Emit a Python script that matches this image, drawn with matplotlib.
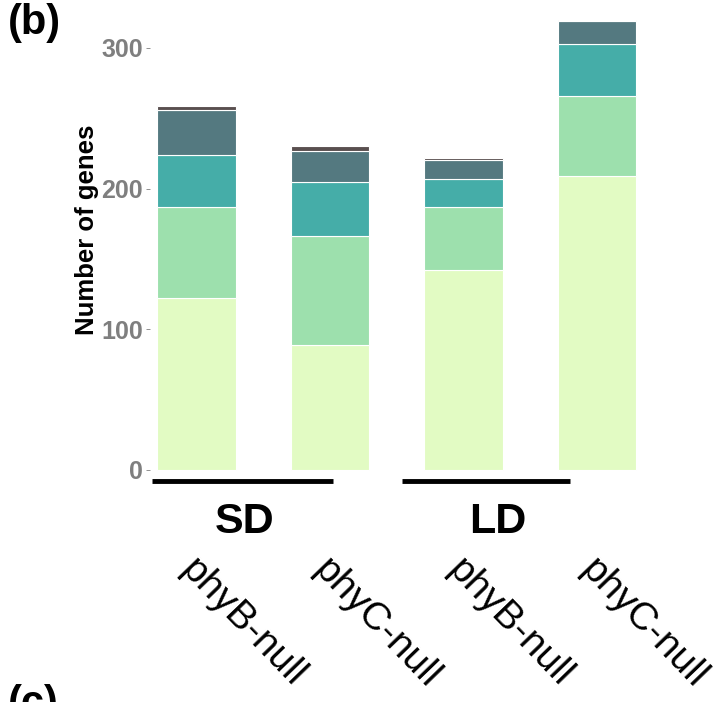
import matplotlib
matplotlib.use("Agg")
import matplotlib.pyplot as plt
import matplotlib.transforms as mtransforms
import numpy as np

plt.rcParams['font.family'] = ['Liberation Sans', 'DejaVu Sans']

# data (stacked counts, bottom to top)
genotypes = ["phyB-null", "phyC-null", "phyB-null", "phyC-null"]
seg1 = [122, 89, 142, 209]
seg2 = [65, 77, 45, 57]
seg3 = [37, 39, 20, 37]
seg4 = [32, 22, 13, 16]
seg5 = [3, 3, 2, 1]
seg_colors = ["#E2FBC3", "#9DE0AD", "#45ADA8", "#547980", "#594F4F"]

groups = ["SD", "LD"]
group_spans = [(-0.33, 1.02), (1.54, 2.80)]
group_label_x = [0.36, 2.26]

fig = plt.figure(figsize=(7.15, 7.02), dpi=100)
ax = fig.add_axes([0.2095, 0.3265, 0.700, 0.6654])

x = np.arange(len(genotypes))
bottom = np.zeros(len(genotypes))
for vals, col in zip([seg1, seg2, seg3, seg4, seg5], seg_colors):
    ax.bar(x, vals, width=0.59, bottom=bottom, color=col,
           edgecolor="white", linewidth=0.8)
    bottom += np.array(vals)

ax.set_xlim(-0.35, 3.4)
ax.set_ylim(-2, 330)

for s in ax.spines.values():
    s.set_visible(False)

ax.set_yticks([0, 100, 200, 300])
ax.tick_params(axis="y", colors="#7f7f7f", length=3, width=0.6, pad=2,
               labelsize=18)
for t in ax.get_yticklabels():
    t.set_fontweight("bold")

ax.set_xticks(x)
ax.set_xticklabels(genotypes, rotation=-46, ha="left", va="top",
                   rotation_mode="anchor", fontsize=28)
ax.tick_params(axis="x", length=0, pad=57)
offset = mtransforms.ScaledTranslation(2 / 72, 0, fig.dpi_scale_trans)
for t in ax.get_xticklabels():
    t.set_transform(t.get_transform() + offset)

# group brackets under the bars
for (x0, x1), name, lx in zip(group_spans, groups, group_label_x):
    ax.plot([x0, x1], [-7.8, -7.8], color="black", lw=3.5,
            solid_capstyle="butt", clip_on=False)
    ax.text(lx, -37, name, ha="center", va="center", fontsize=31,
            fontweight="bold", clip_on=False)

fig.text(87 / 715, 1 - 230 / 702, "Number of genes", rotation=90,
         ha="center", va="center", fontsize=18.5, fontweight="bold")
fig.text(8 / 715, 1 - 3 / 702, "(b)", ha="left", va="top", fontsize=30,
         fontweight="bold")
fig.text(8 / 715, 1 - 684 / 702, "(c)", ha="left", va="top", fontsize=30,
         fontweight="bold")

fig.savefig("out.png", dpi=100)
